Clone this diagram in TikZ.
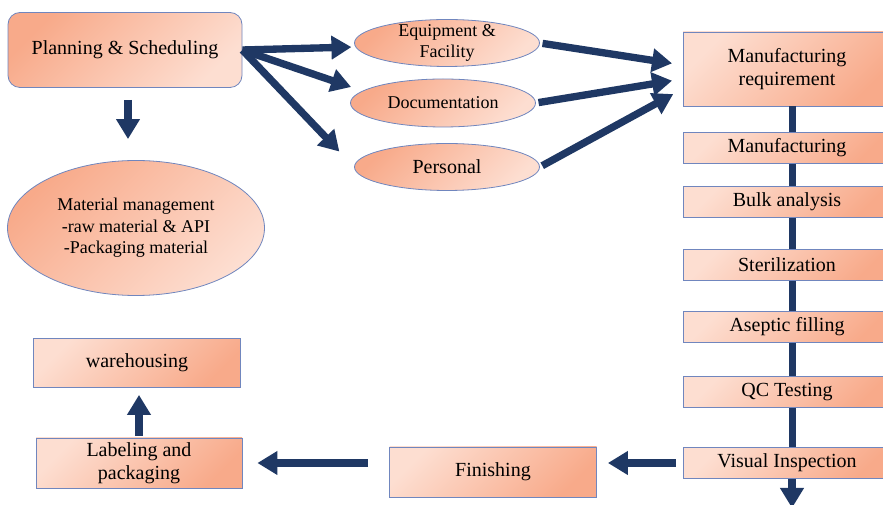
\documentclass[tikz,border=0pt]{standalone}
\usepackage{fontspec}
\setmainfont{Liberation Serif}
\usetikzlibrary{arrows.meta,calc,shapes.geometric}

\definecolor{pfdark}{RGB}{248,170,138}
\definecolor{pflight}{RGB}{253,222,209}
\definecolor{pfedge}{RGB}{112,134,190}
\definecolor{pfnavy}{RGB}{31,56,100}

\tikzset{
  pfnode/.style={draw=pfedge, line width=.6pt, inner sep=0pt, align=center,
    font=\fontsize{15}{17.5}\selectfont},
  pfsmall/.style={font=\fontsize{13.5}{16.25}\selectfont},
  pfrnd/.style={pfnode, rectangle, rounded corners=9pt,
    top color=pfdark, bottom color=pflight, shading angle=45},
  pfoval/.style={pfnode, ellipse,
    top color=pfdark, bottom color=pflight, shading angle=45},
  pfbox/.style={pfnode, rectangle,
    top color=pflight, bottom color=pfdark, shading angle=45},
  pfstep/.style={pfbox, minimum width=156pt, minimum height=23.25pt},
  pfarrow/.style={draw=pfnavy, line width=5.5pt, -{Triangle[width=17pt,length=15pt]}},
  pfline/.style={draw=pfnavy, line width=5.25pt}
}

\begin{document}
\begin{tikzpicture}[x=0.75pt, y=-0.75pt]
\useasboundingbox (0,0) rectangle (883,505);
\clip (0,0) rectangle (883,505);

\node[pfrnd, minimum width=175.5pt, minimum height=56.25pt] (pln) at (125,50) {Planning \& Scheduling};
\node[pfoval, pfsmall, minimum width=192.75pt, minimum height=101.25pt] (mat) at (136,228) {Material management\\-raw material \& API\\-Packaging material};

\node[pfoval, pfsmall, inner ysep=-2.5pt, minimum width=138.75pt, minimum height=35.25pt] (eqp) at (447,43) {Equipment \&\\Facility};
\node[pfoval, pfsmall, minimum width=138.75pt, minimum height=36pt] (doc) at (443,103) {Documentation};
\node[pfoval, minimum width=138.75pt, minimum height=35.25pt] (per) at (447,167) {Personal};

\node[pfbox, minimum width=156pt, minimum height=55.5pt] (mreq) at (787,69) {Manufacturing\\requirement};
\node[pfstep] (manu) at (787,148) {Manufacturing};
\node[pfstep] (bulk) at (787,202) {Bulk analysis};
\node[pfstep] (ster) at (787,265) {Sterilization};
\node[pfstep] (asep) at (787,327) {Aseptic filling};
\node[pfstep] (qc) at (787,392) {QC Testing};
\node[pfstep] (vis) at (787,463) {Visual Inspection};
\coordinate (vout) at (792,508);

\node[pfbox, minimum width=155.25pt, minimum height=37.5pt] (fin) at (493,472) {Finishing};
\node[pfbox, minimum width=154.5pt, minimum height=37.5pt] (lab) at (139,463) {Labeling and\\packaging};
\node[pfbox, minimum width=155.25pt, minimum height=36.75pt] (ware) at (137,363) {warehousing};

\draw[pfarrow] ($(pln.south)+(3,12)$) -- ($(pln.south |- mat.north)+(3,-21)$);

\draw[pfarrow, shorten >=2pt] (pln.east) -- ($(eqp.west)+(0,4)$);
\draw[pfarrow] (pln.east) -- ($(doc.west)+(1,-16)$);
\draw[pfarrow, shorten >=16pt] (pln.east) -- (per.west);

\draw[pfarrow, shorten <=2pt, shorten >=8pt] (eqp.east) -- ($(mreq.west)+(0,-4)$);
\draw[pfarrow, shorten <=2pt, shorten >=8pt] (doc.east) -- ($(mreq.west)+(0,10)$);
\draw[pfarrow, shorten <=2pt, shorten >=8pt] (per.east) -- ($(mreq.west)+(0,20)$);

\draw[pfline] ($(mreq.south)+(5,0)$) -- ($(manu.north)+(5,0)$);
\draw[pfline] ($(manu.south)+(5,0)$) -- ($(bulk.north)+(5,0)$);
\draw[pfline] ($(bulk.south)+(5,0)$) -- ($(ster.north)+(5,0)$);
\draw[pfline] ($(ster.south)+(5,0)$) -- ($(asep.north)+(5,0)$);
\draw[pfline] ($(asep.south)+(5,0)$) -- ($(qc.north)+(5,0)$);
\draw[pfline] ($(qc.south)+(5,0)$) -- ($(vis.north)+(5,0)$);
\draw[pfarrow] ($(vis.south)+(5,0)$) -- (vout);

\draw[pfarrow] ($(vis.west)+(-7,0)$) -- ($(vis.west -| fin.east)+(11,0)$);
\draw[pfarrow] ($(lab.east -| fin.west)+(-21,0)$) -- ($(lab.east)+(15,0)$);
\draw[pfarrow] ($(lab.north)+(0,-2)$) -- ($(ware.south -| lab.north)+(0,7)$);
\end{tikzpicture}
\end{document}
